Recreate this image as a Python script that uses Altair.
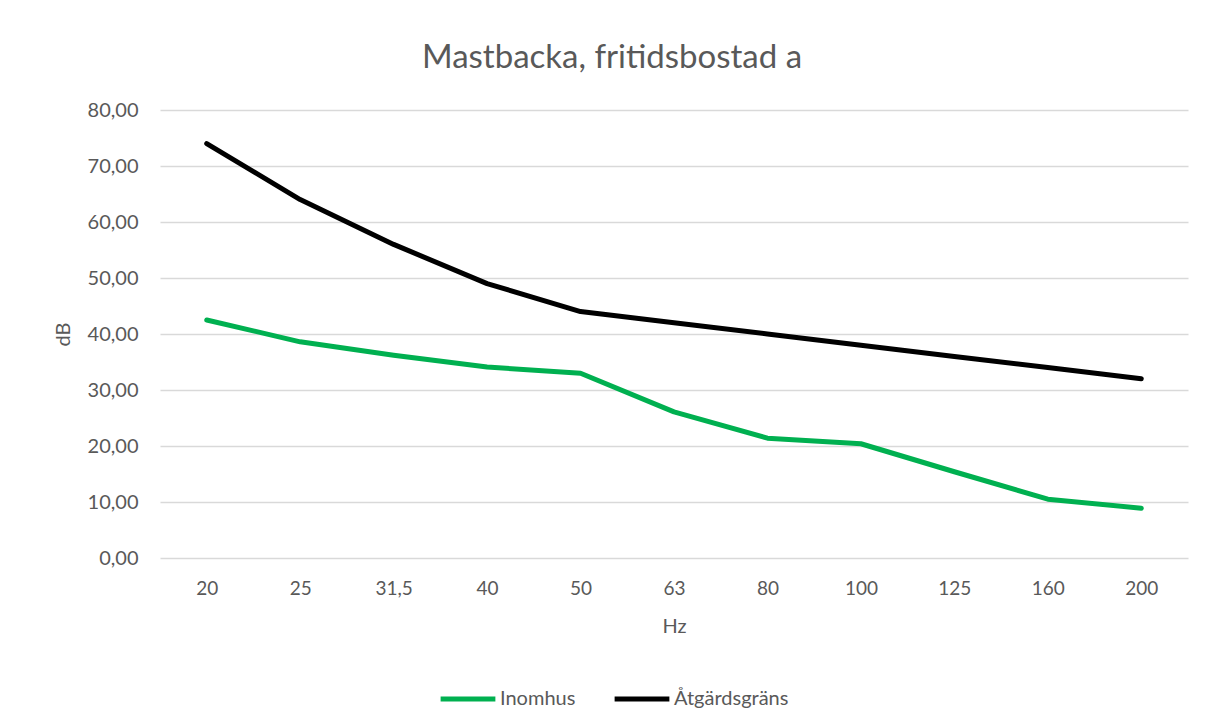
import altair as alt
import pandas as pd

hz = ["20", "25", "31,5", "40", "50", "63", "80", "100", "125", "160", "200"]
inomhus = [42.5, 38.6, 36.2, 34.1, 33.0, 26.1, 21.4, 20.4, 15.4, 10.5, 8.9]
atgard = [74, 64, 56, 49, 44, 42, 40, 38, 36, 34, 32]
series = ["Inomhus", "Åtgärdsgräns"]
colors = ["#00b050", "#000000"]

rows = []
for i, h in enumerate(hz):
    rows.append({"Hz": h, "serie": series[0], "dB": inomhus[i], "o": i})
    rows.append({"Hz": h, "serie": series[1], "dB": atgard[i], "o": i})
df = pd.DataFrame(rows)

font = "Lato"
grey = "#595959"

chart = alt.Chart(df).mark_line(strokeWidth=5, strokeCap="round", strokeJoin="round").encode(
    x=alt.X("Hz:O", sort=hz, scale=alt.Scale(type="point", padding=0.5),
            axis=alt.Axis(title="Hz", labelAngle=0, labelPadding=21, titlePadding=18,
                          ticks=False, domain=False, grid=False,
                          labelFontSize=19, titleFontSize=20, titleFontWeight="normal",
                          labelColor=grey, titleColor=grey,
                          labelFont=font, titleFont=font)),
    y=alt.Y("dB:Q", scale=alt.Scale(domain=[0, 80], nice=False),
            axis=alt.Axis(title="dB", values=list(range(0, 81, 10)),
                          labelExpr="replace(format(datum.value, '.2f'), '.', ',')",
                          ticks=False, domain=False, labelPadding=22, titlePadding=14,
                          gridColor="#d9d9d9", gridWidth=1.5,
                          labelFontSize=20, titleFontSize=20, titleFontWeight="normal",
                          labelColor=grey, titleColor=grey,
                          labelFont=font, titleFont=font)),
    color=alt.Color("serie:N", scale=alt.Scale(domain=series, range=colors),
                    legend=alt.Legend(title=None, orient="none", direction="horizontal",
                                      legendX=278, legendY=559,
                                      symbolType="stroke", symbolStrokeWidth=5,
                                      symbolSize=3000, labelFontSize=20,
                                      labelColor=grey, labelFont=font,
                                      labelOffset=2, columnPadding=28)),
    order="o:Q",
).properties(
    width=1028, height=448,
    title=alt.TitleParams("Mastbacka, fritidsbostad a", fontSize=33, font=font,
                          color=grey, fontWeight="normal", anchor="middle",
                          dx=-62, offset=25),
    padding={"left": 152, "top": 102, "right": 24, "bottom": 162},
    autosize=alt.AutoSizeParams(type="none"),
).configure_view(stroke=None)

chart.save("out.html", embed_options={"renderer": "svg", "actions": False})
